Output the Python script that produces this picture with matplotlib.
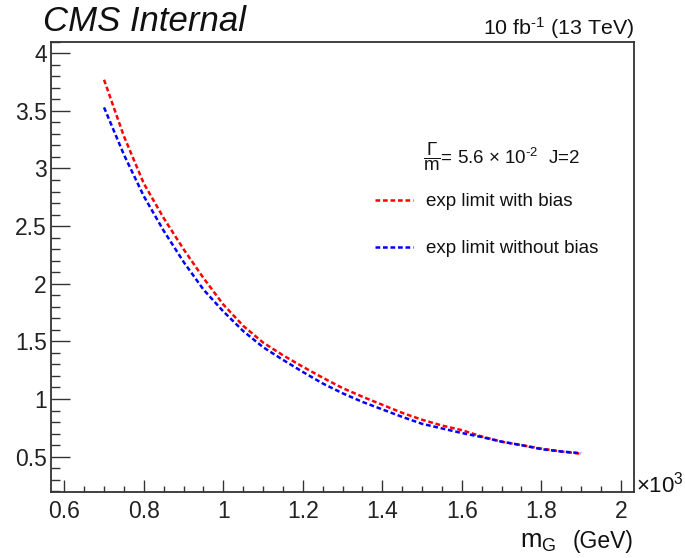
import matplotlib
matplotlib.use("Agg")
import matplotlib.pyplot as plt
from matplotlib.ticker import MultipleLocator, FuncFormatter

plt.rcParams['font.family'] = ['Liberation Sans', 'DejaVu Sans']
plt.rcParams['mathtext.fontset'] = 'custom'
plt.rcParams['mathtext.rm'] = 'Liberation Sans'
plt.rcParams['mathtext.it'] = 'Liberation Sans:italic'
plt.rcParams['mathtext.bf'] = 'Liberation Sans:bold'
plt.rcParams['lines.scale_dashes'] = False

HYPHEN = '\u2010'

# Graviton mass points (GeV) and expected limits
mass = [700, 750, 800, 850, 900, 950, 1000, 1050, 1100, 1150, 1200, 1250, 1300,
        1350, 1400, 1450, 1500, 1550, 1600, 1650, 1700, 1750, 1800, 1850, 1900]
limit_with_bias = [3.77, 3.28, 2.87, 2.57, 2.30, 2.05, 1.82, 1.635, 1.49, 1.38,
                   1.28, 1.185, 1.095, 1.02, 0.95, 0.88, 0.82, 0.77, 0.73, 0.675,
                   0.63, 0.60, 0.57, 0.545, 0.525]
limit_without_bias = [3.53, 3.12, 2.76, 2.46, 2.19, 1.95, 1.76, 1.59, 1.45, 1.34,
                      1.235, 1.135, 1.05, 0.975, 0.91, 0.845, 0.785, 0.745, 0.705, 0.67,
                      0.63, 0.60, 0.565, 0.545, 0.53]
labels = ['exp limit with bias', 'exp limit without bias']
colors = ['#ff0000', '#0000ff']

W, H = 685, 558
fig = plt.figure(figsize=(W / 100, H / 100), dpi=100)
ax_l, ax_r, ax_t, ax_b = 51, 634, 41.7, 491.7
ax = fig.add_axes([ax_l / W, 1 - ax_b / H, (ax_r - ax_l) / W, (ax_b - ax_t) / H])

dash = (3.4, 2.0)
handles = []
for ys, c, lab in zip([limit_with_bias, limit_without_bias], colors, labels):
    h, = ax.plot(mass, ys, color=c, lw=1.8, dashes=dash, label=lab)
    handles.append(h)

ax.set_xlim(566.6, 2033)
ax.set_ylim(0.196, 4.10)

ax.xaxis.set_major_locator(MultipleLocator(200))
ax.xaxis.set_minor_locator(MultipleLocator(50))
ax.yaxis.set_major_locator(MultipleLocator(0.5))
ax.yaxis.set_minor_locator(MultipleLocator(0.1))
ax.xaxis.set_major_formatter(FuncFormatter(lambda v, p: '%g' % round(v / 1000, 3)))
ax.yaxis.set_major_formatter(FuncFormatter(lambda v, p: '%g' % round(v, 3)))

spine_col = '#333333'
for s in ax.spines.values():
    s.set_color(spine_col)
    s.set_linewidth(1.3)

ax.tick_params(axis='both', which='both', direction='in', top=False, right=False,
               color=spine_col, width=1.0, labelsize=16.5, labelcolor='#222222')
ax.tick_params(axis='y', which='major', length=13.5, pad=3)
ax.tick_params(axis='y', which='minor', length=6.5)
ax.tick_params(axis='x', which='major', length=8.6, pad=6)
ax.tick_params(axis='x', which='minor', length=4.3)

# Header texts
fig.text(43 / W, 1 - 31 / H, 'CMS Internal', fontsize=25, style='italic',
         ha='left', va='baseline', color='#111111')
fig.text(634 / W, 1 - 35 / H, '10 fb$^{' + HYPHEN + '1}$ (13 TeV)', fontsize=15.4,
         ha='right', va='baseline', color='#111111')

# Axis title and exponent marker
fig.text(520 / W, 1 - 548 / H, r'm$_{\mathrm{G}}$', fontsize=18.5,
         ha='left', va='baseline', color='#111111')
fig.text(633 / W, 1 - 548 / H, '(GeV)', fontsize=16.5,
         ha='right', va='baseline', color='#111111')
fig.text(636 / W, 1 - 492 / H, r'$\times$10$^{3}$', fontsize=16,
         ha='left', va='baseline', color='#111111')

# Legend header and entries
header = (r'$\dfrac{\Gamma}{\mathrm{m}}$= 5.6 $\times$ 10$^{' + HYPHEN + '2}$  J=2')
fig.text(423 / W, 1 - 157 / H, header,
         fontsize=13.5, ha='left', va='center', color='#111111')
leg = ax.legend(handles=handles, loc='upper left',
                bbox_to_anchor=(375 / W, 1 - 193 / H), bbox_transform=fig.transFigure,
                frameon=False, fontsize=13.5, handlelength=2.0, handletextpad=0.7,
                labelspacing=1.6, borderpad=0, borderaxespad=0)
for t in leg.get_texts():
    t.set_color('#111111')

fig.savefig('out.png', dpi=100)
